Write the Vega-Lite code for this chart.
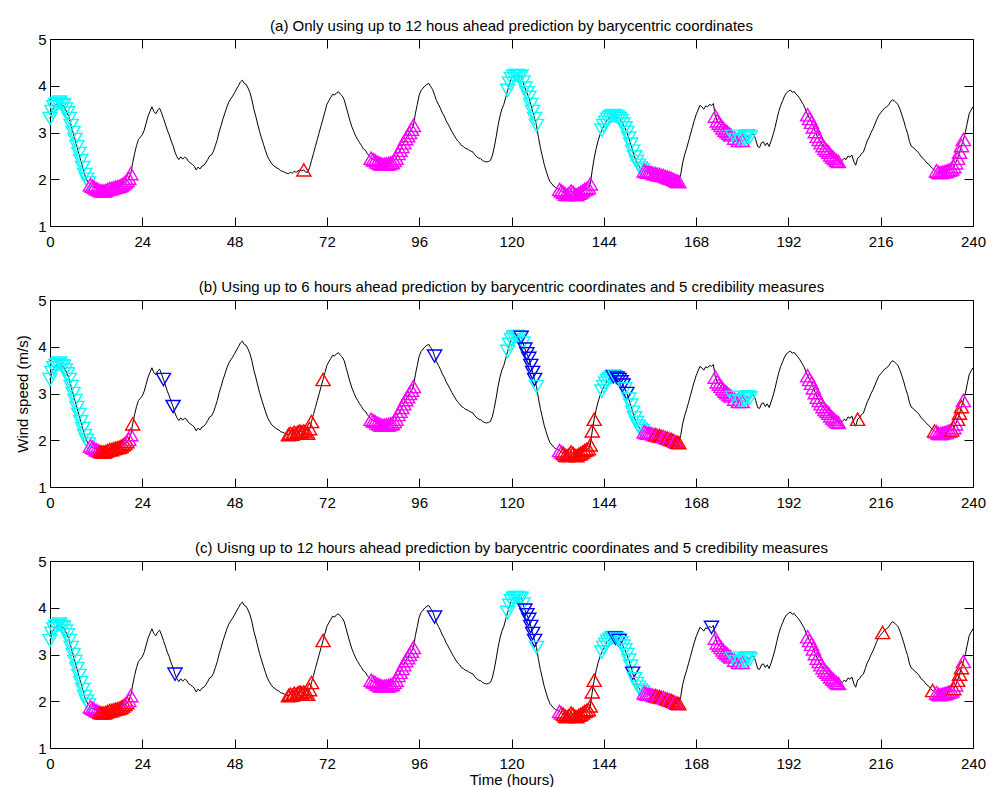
{
"$schema": "https://vega.github.io/schema/vega-lite/v6.json",
"background": "white",
"padding": {"left": 15, "top": 18, "right": 5, "bottom": 0},
"bounds": "flush",
"spacing": 74,
"config": {
 "view": {"stroke": "black", "strokeWidth": 1},
 "axis": {"domain": false, "grid": false, "ticks": true, "tickSize": -9, "tickColor": "black", "tickWidth": 1, "labelFont": "Liberation Sans", "labelFontSize": 15, "labelColor": "black", "titleFont": "Liberation Sans", "titleFontSize": 15, "titleFontWeight": "normal", "titleColor": "black", "labelFlush": false, "labelOverlap": false},
 "title": {"font": "Liberation Sans", "fontSize": 15, "fontWeight": "normal", "color": "black", "offset": -2, "baseline": "alphabetic", "frame": "group"}
},
"datasets": {"d": [
{"t":0,"v":3.30,"a":"cy","b":"cy","c":"cy"},{"t":0.5,"v":3.45,"a":"cy","b":"cy","c":"cy"},{"t":1,"v":3.55,"a":"cy","b":"cy","c":"cy"},{"t":1.5,"v":3.60,"a":"cy","b":"cy","c":"cy"},{"t":2,"v":3.62,"a":"cy","b":"cy","c":"cy"},{"t":2.5,"v":3.65,"a":"cy","b":"cy","c":"cy"},{"t":3,"v":3.60,"a":"cy","b":"cy","c":"cy"},{"t":3.5,"v":3.58,"a":"cy","b":"cy","c":"cy"},{"t":4,"v":3.50,"a":"cy","b":"cy","c":"cy"},{"t":4.5,"v":3.42,"a":"cy","b":"cy","c":"cy"},
{"t":5,"v":3.30,"a":"cy","b":"cy","c":"cy"},{"t":5.5,"v":3.15,"a":"cy","b":"cy","c":"cy"},{"t":6,"v":3.00,"a":"cy","b":"cy","c":"cy"},{"t":6.5,"v":2.85,"a":"cy","b":"cy","c":"cy"},{"t":7,"v":2.70,"a":"cy","b":"cy","c":"cy"},{"t":7.5,"v":2.55,"a":"cy","b":"cy","c":"cy"},{"t":8,"v":2.40,"a":"cy","b":"cy","c":"cy"},{"t":8.5,"v":2.25,"a":"cy","b":"cy","c":"cy"},{"t":9,"v":2.10,"a":"cy","b":"cy","c":"cy"},{"t":9.5,"v":2.00,"a":"cy","b":"cy","c":"cy"},
{"t":10,"v":1.92,"a":"cy","b":"cy","c":"cy"},{"t":10.5,"v":1.88,"a":"mg","b":"mg","c":"mg"},{"t":11,"v":1.85,"a":"mg","b":"mg","c":"mg"},{"t":11.5,"v":1.83,"a":"mg","b":"mg","c":"mg"},{"t":12,"v":1.80,"a":"mg","b":"mg","c":"mg"},{"t":12.5,"v":1.78,"a":"mg","b":"mg","c":"mg"},{"t":13,"v":1.76,"a":"mg","b":"rd","c":"rd"},{"t":13.5,"v":1.75,"a":"mg","b":"rd","c":"rd"},{"t":14,"v":1.75,"a":"mg","b":"rd","c":"rd"},{"t":14.5,"v":1.76,"a":"mg","b":"rd","c":"rd"},
{"t":15,"v":1.78,"a":"mg","b":"rd","c":"rd"},{"t":15.5,"v":1.80,"a":"mg","b":"rd","c":"rd"},{"t":16,"v":1.80,"a":"mg","b":"rd","c":"rd"},{"t":16.5,"v":1.82,"a":"mg","b":"rd","c":"rd"},{"t":17,"v":1.83,"a":"mg","b":"rd","c":"rd"},{"t":17.5,"v":1.84,"a":"mg","b":"rd","c":"rd"},{"t":18,"v":1.85,"a":"mg","b":"rd","c":"rd"},{"t":18.5,"v":1.87,"a":"mg","b":"rd","c":"rd"},{"t":19,"v":1.90,"a":"mg","b":"rd","c":"rd"},{"t":19.5,"v":1.93,"a":"mg","b":"rd","c":"rd"},
{"t":20,"v":1.97,"a":"mg","b":"rd","c":"rd"},{"t":20.5,"v":2.02,"a":"mg","b":"mg","c":"mg"},{"t":21,"v":2.12,"a":"mg","b":"mg","c":"mg"},{"t":21.5,"v":2.35,"b":"rd"},{"t":22,"v":2.55},{"t":22.5,"v":2.72},{"t":23,"v":2.85},{"t":23.5,"v":2.90},{"t":24,"v":2.95},{"t":24.5,"v":3.05},
{"t":25,"v":3.20},{"t":25.5,"v":3.35},{"t":26,"v":3.45},{"t":26.5,"v":3.55},{"t":27,"v":3.45},{"t":27.5,"v":3.40},{"t":28,"v":3.48},{"t":28.5,"v":3.52},{"t":29,"v":3.42},{"t":29.5,"v":3.30,"b":"bl"},
{"t":30,"v":3.18},{"t":30.5,"v":3.05},{"t":31,"v":2.95},{"t":31.5,"v":2.82},{"t":32,"v":2.72,"b":"bl"},{"t":32.5,"v":2.58,"c":"bl"},{"t":33,"v":2.48},{"t":33.5,"v":2.42},{"t":34,"v":2.48},{"t":34.5,"v":2.43},
{"t":35,"v":2.47},{"t":35.5,"v":2.45},{"t":36,"v":2.38},{"t":36.5,"v":2.35},{"t":37,"v":2.32},{"t":37.5,"v":2.28},{"t":38,"v":2.20},{"t":38.5,"v":2.26},{"t":39,"v":2.22},{"t":39.5,"v":2.28},
{"t":40,"v":2.30},{"t":40.5,"v":2.35},{"t":41,"v":2.42},{"t":41.5,"v":2.50},{"t":42,"v":2.52},{"t":42.5,"v":2.60},{"t":43,"v":2.72},{"t":43.5,"v":2.85},{"t":44,"v":3.02},{"t":44.5,"v":3.15},
{"t":45,"v":3.30},{"t":45.5,"v":3.42},{"t":46,"v":3.55},{"t":46.5,"v":3.65},{"t":47,"v":3.72},{"t":47.5,"v":3.78},{"t":48,"v":3.85},{"t":48.5,"v":3.93},{"t":49,"v":4.00},{"t":49.5,"v":4.08},
{"t":50,"v":4.12},{"t":50.5,"v":4.05},{"t":51,"v":4.03},{"t":51.5,"v":3.95},{"t":52,"v":3.85},{"t":52.5,"v":3.70},{"t":53,"v":3.50},{"t":53.5,"v":3.35},{"t":54,"v":3.18},{"t":54.5,"v":3.02},
{"t":55,"v":2.88},{"t":55.5,"v":2.75},{"t":56,"v":2.62},{"t":56.5,"v":2.50},{"t":57,"v":2.42},{"t":57.5,"v":2.35},{"t":58,"v":2.30},{"t":58.5,"v":2.27},{"t":59,"v":2.24},{"t":59.5,"v":2.22},
{"t":60,"v":2.18},{"t":60.5,"v":2.17},{"t":61,"v":2.15},{"t":61.5,"v":2.13},{"t":62,"v":2.12,"b":"rd","c":"rd"},{"t":62.5,"v":2.15,"b":"rd","c":"rd"},{"t":63,"v":2.13,"b":"rd","c":"rd"},{"t":63.5,"v":2.17,"b":"rd","c":"rd"},{"t":64,"v":2.15,"b":"rd","c":"rd"},{"t":64.5,"v":2.18,"b":"rd","c":"rd"},
{"t":65,"v":2.20,"b":"rd","c":"rd"},{"t":65.5,"v":2.18,"b":"rd","c":"rd"},{"t":66,"v":2.20,"a":"rd","b":"rd","c":"rd"},{"t":66.5,"v":2.15,"b":"rd","c":"rd"},{"t":67,"v":2.15,"b":"rd","c":"rd"},{"t":67.5,"v":2.25,"b":"rd","c":"rd"},{"t":68,"v":2.40,"b":"rd","c":"rd"},{"t":68.5,"v":2.55},{"t":69,"v":2.70},{"t":69.5,"v":2.85},
{"t":70,"v":3.00},{"t":70.5,"v":3.15},{"t":71,"v":3.30,"b":"rd","c":"rd"},{"t":71.5,"v":3.45},{"t":72,"v":3.60},{"t":72.5,"v":3.68},{"t":73,"v":3.75},{"t":73.5,"v":3.82},{"t":74,"v":3.80},{"t":74.5,"v":3.85},
{"t":75,"v":3.87},{"t":75.5,"v":3.82},{"t":76,"v":3.78},{"t":76.5,"v":3.70},{"t":77,"v":3.55},{"t":77.5,"v":3.40},{"t":78,"v":3.25},{"t":78.5,"v":3.12},{"t":79,"v":3.02},{"t":79.5,"v":2.92},
{"t":80,"v":2.85},{"t":80.5,"v":2.78},{"t":81,"v":2.72},{"t":81.5,"v":2.65},{"t":82,"v":2.62},{"t":82.5,"v":2.55},{"t":83,"v":2.50},{"t":83.5,"v":2.45,"a":"mg","b":"mg","c":"mg"},{"t":84,"v":2.42,"a":"mg","b":"mg","c":"mg"},{"t":84.5,"v":2.40,"a":"mg","b":"mg","c":"mg"},
{"t":85,"v":2.37,"a":"mg","b":"mg","c":"mg"},{"t":85.5,"v":2.35,"a":"mg","b":"mg","c":"mg"},{"t":86,"v":2.33,"a":"mg","b":"mg","c":"mg"},{"t":86.5,"v":2.32,"a":"mg","b":"mg","c":"mg"},{"t":87,"v":2.32,"a":"mg","b":"mg","c":"mg"},{"t":87.5,"v":2.33,"a":"mg","b":"mg","c":"mg"},{"t":88,"v":2.33,"a":"mg","b":"mg","c":"mg"},{"t":88.5,"v":2.35,"a":"mg","b":"mg","c":"mg"},{"t":89,"v":2.36,"a":"mg","b":"mg","c":"mg"},{"t":89.5,"v":2.40,"a":"mg","b":"mg","c":"mg"},
{"t":90,"v":2.45,"a":"mg","b":"mg","c":"mg"},{"t":90.5,"v":2.55,"a":"mg","b":"mg","c":"mg"},{"t":91,"v":2.62,"a":"mg","b":"mg","c":"mg"},{"t":91.5,"v":2.70,"a":"mg","b":"mg","c":"mg"},{"t":92,"v":2.78,"a":"mg","b":"mg","c":"mg"},{"t":92.5,"v":2.87,"a":"mg","b":"mg","c":"mg"},{"t":93,"v":2.93,"a":"mg","b":"mg","c":"mg"},{"t":93.5,"v":3.00,"a":"mg","b":"mg","c":"mg"},{"t":94,"v":3.07,"a":"mg","b":"mg","c":"mg"},{"t":94.5,"v":3.15,"a":"mg","b":"mg","c":"mg"},
{"t":95,"v":3.40},{"t":95.5,"v":3.60},{"t":96,"v":3.80},{"t":96.5,"v":3.90},{"t":97,"v":3.95},{"t":97.5,"v":4.00},{"t":98,"v":4.03},{"t":98.5,"v":4.05},{"t":99,"v":3.98},{"t":99.5,"v":3.92},
{"t":100,"v":3.80,"b":"bl","c":"bl"},{"t":100.5,"v":3.68},{"t":101,"v":3.60},{"t":101.5,"v":3.52},{"t":102,"v":3.42},{"t":102.5,"v":3.35},{"t":103,"v":3.25},{"t":103.5,"v":3.18},{"t":104,"v":3.10},{"t":104.5,"v":3.02},
{"t":105,"v":2.95},{"t":105.5,"v":2.88},{"t":106,"v":2.82},{"t":106.5,"v":2.78},{"t":107,"v":2.72},{"t":107.5,"v":2.70},{"t":108,"v":2.66},{"t":108.5,"v":2.65},{"t":109,"v":2.62},{"t":109.5,"v":2.60},
{"t":110,"v":2.58},{"t":110.5,"v":2.52},{"t":111,"v":2.48},{"t":111.5,"v":2.45},{"t":112,"v":2.44},{"t":112.5,"v":2.40},{"t":113,"v":2.38},{"t":113.5,"v":2.37},{"t":114,"v":2.38},{"t":114.5,"v":2.40},
{"t":115,"v":2.50},{"t":115.5,"v":2.68},{"t":116,"v":2.90},{"t":116.5,"v":3.15},{"t":117,"v":3.35},{"t":117.5,"v":3.50},{"t":118,"v":3.60},{"t":118.5,"v":3.75},{"t":119,"v":3.90,"a":"cy","b":"cy","c":"cy"},{"t":119.5,"v":4.05,"a":"cy","b":"cy","c":"cy"},
{"t":120,"v":4.15,"a":"cy","b":"cy","c":"cy"},{"t":120.5,"v":4.20,"a":"cy","b":"cy","c":"cy"},{"t":121,"v":4.22,"a":"cy","b":"cy","c":"cy"},{"t":121.5,"v":4.22,"a":"cy","b":"cy","c":"cy"},{"t":122,"v":4.20,"a":"cy","b":"cy","c":"cy"},{"t":122.5,"v":4.20,"a":"cy","b":"bl","c":"cy"},{"t":123,"v":4.08,"a":"cy","b":"cy","c":"cy"},{"t":123.5,"v":3.95,"a":"cy","b":"bl","c":"bl"},{"t":124,"v":3.85,"a":"cy","b":"bl","c":"bl"},{"t":124.5,"v":3.75,"a":"cy","b":"bl","c":"bl"},
{"t":125,"v":3.60,"a":"cy","b":"bl","c":"bl"},{"t":125.5,"v":3.45,"a":"cy","b":"bl","c":"bl"},{"t":126,"v":3.30,"a":"cy","b":"bl","c":"bl"},{"t":126.5,"v":3.15,"a":"cy","b":"cy","c":"cy"},{"t":127,"v":2.90},{"t":127.5,"v":2.68},{"t":128,"v":2.50},{"t":128.5,"v":2.32},{"t":129,"v":2.18},{"t":129.5,"v":2.05},
{"t":130,"v":1.95},{"t":130.5,"v":1.90},{"t":131,"v":1.85},{"t":131.5,"v":1.82},{"t":132,"v":1.80},{"t":132.5,"v":1.78,"a":"mg","b":"mg","c":"mg"},{"t":133,"v":1.75,"a":"mg","b":"mg","c":"mg"},{"t":133.5,"v":1.72,"a":"mg","b":"rd","c":"rd"},{"t":134,"v":1.68,"a":"mg","b":"rd","c":"rd"},{"t":134.5,"v":1.67,"a":"mg","b":"rd","c":"rd"},
{"t":135,"v":1.70,"a":"mg","b":"rd","c":"rd"},{"t":135.5,"v":1.75,"a":"mg","b":"rd","c":"rd"},{"t":136,"v":1.72,"a":"mg","b":"rd","c":"rd"},{"t":136.5,"v":1.68,"a":"mg","b":"rd","c":"rd"},{"t":137,"v":1.67,"a":"mg","b":"rd","c":"rd"},{"t":137.5,"v":1.70,"a":"mg","b":"rd","c":"rd"},{"t":138,"v":1.72,"a":"mg","b":"rd","c":"rd"},{"t":138.5,"v":1.75,"a":"mg","b":"rd","c":"rd"},{"t":139,"v":1.78,"a":"mg","b":"rd","c":"rd"},{"t":139.5,"v":1.80,"a":"mg","b":"rd","c":"rd"},
{"t":140,"v":1.82,"a":"mg","b":"rd","c":"rd"},{"t":140.5,"v":1.90,"a":"mg","b":"rd","c":"rd"},{"t":141,"v":2.20,"b":"rd","c":"rd"},{"t":141.5,"v":2.45,"b":"rd","c":"rd"},{"t":142,"v":2.65},{"t":142.5,"v":2.82},{"t":143,"v":2.95},{"t":143.5,"v":3.05,"a":"cy","b":"cy","c":"cy"},{"t":144,"v":3.15,"a":"cy","b":"cy","c":"cy"},{"t":144.5,"v":3.22,"a":"cy","b":"cy","c":"cy"},
{"t":145,"v":3.28,"a":"cy","b":"cy","c":"cy"},{"t":145.5,"v":3.32,"a":"cy","b":"cy","c":"cy"},{"t":146,"v":3.35,"a":"cy","b":"cy","c":"cy"},{"t":146.5,"v":3.36,"a":"cy","b":"bl","c":"cy"},{"t":147,"v":3.35,"a":"cy","b":"cy","c":"bl"},{"t":147.5,"v":3.33,"a":"cy","b":"bl","c":"cy"},{"t":148,"v":3.30,"a":"cy","b":"bl","c":"bl"},{"t":148.5,"v":3.25,"a":"cy","b":"bl","c":"cy"},{"t":149,"v":3.18,"a":"cy","b":"bl","c":"cy"},{"t":149.5,"v":3.10,"a":"cy","b":"cy","c":"cy"},
{"t":150,"v":3.00,"a":"cy","b":"bl","c":"cy"},{"t":150.5,"v":2.88,"a":"cy","b":"cy","c":"cy"},{"t":151,"v":2.75,"a":"cy","b":"cy","c":"cy"},{"t":151.5,"v":2.60,"a":"cy","b":"cy","c":"bl"},{"t":152,"v":2.48,"a":"cy","b":"cy","c":"cy"},{"t":152.5,"v":2.38,"a":"cy","b":"cy","c":"cy"},{"t":153,"v":2.30,"a":"cy","b":"cy","c":"cy"},{"t":153.5,"v":2.24,"a":"cy","b":"cy","c":"cy"},{"t":154,"v":2.20,"a":"cy","b":"cy","c":"cy"},{"t":154.5,"v":2.18,"a":"mg","b":"mg","c":"mg"},
{"t":155,"v":2.16,"a":"mg","b":"mg","c":"mg"},{"t":155.5,"v":2.15,"a":"mg","b":"mg","c":"mg"},{"t":156,"v":2.15,"a":"mg","b":"mg","c":"mg"},{"t":156.5,"v":2.14,"a":"mg","b":"mg","c":"mg"},{"t":157,"v":2.12,"a":"mg","b":"mg","c":"mg"},{"t":157.5,"v":2.12,"a":"mg","b":"rd","c":"rd"},{"t":158,"v":2.10,"a":"mg","b":"mg","c":"mg"},{"t":158.5,"v":2.10,"a":"mg","b":"rd","c":"rd"},{"t":159,"v":2.08,"a":"mg","b":"rd","c":"rd"},{"t":159.5,"v":2.08,"a":"mg","b":"mg","c":"mg"},
{"t":160,"v":2.06,"a":"mg","b":"mg","c":"mg"},{"t":160.5,"v":2.05,"a":"mg","b":"rd","c":"rd"},{"t":161,"v":2.03,"a":"mg","b":"mg","c":"mg"},{"t":161.5,"v":2.02,"a":"mg","b":"rd","c":"rd"},{"t":162,"v":2.00,"a":"mg","b":"rd","c":"rd"},{"t":162.5,"v":1.98,"a":"mg","b":"mg","c":"mg"},{"t":163,"v":1.96,"a":"mg","b":"rd","c":"rd"},{"t":163.5,"v":1.95,"a":"mg","b":"rd","c":"rd"},{"t":164,"v":2.10},{"t":164.5,"v":2.35},
{"t":165,"v":2.52},{"t":165.5,"v":2.65},{"t":166,"v":2.80},{"t":166.5,"v":2.95},{"t":167,"v":3.10},{"t":167.5,"v":3.25},{"t":168,"v":3.38},{"t":168.5,"v":3.48},{"t":169,"v":3.58},{"t":169.5,"v":3.55},
{"t":170,"v":3.50},{"t":170.5,"v":3.57},{"t":171,"v":3.55},{"t":171.5,"v":3.60},{"t":172,"v":3.58,"c":"bl"},{"t":172.5,"v":3.62},{"t":173,"v":3.35,"a":"mg","b":"mg","c":"mg"},{"t":173.5,"v":3.25,"a":"mg","b":"mg","c":"mg"},{"t":174,"v":3.20,"a":"mg","b":"mg","c":"mg"},{"t":174.5,"v":3.15,"a":"mg","b":"mg","c":"mg"},
{"t":175,"v":3.10,"a":"mg","b":"mg","c":"mg"},{"t":175.5,"v":3.05,"a":"mg","b":"mg","c":"mg"},{"t":176,"v":3.02,"a":"mg","b":"mg","c":"mg"},{"t":176.5,"v":2.98,"a":"mg","b":"mg","c":"mg"},{"t":177,"v":2.95,"a":"mg","b":"mg","c":"mg"},{"t":177.5,"v":2.92,"a":"cy","b":"cy","c":"cy"},{"t":178,"v":2.88,"a":"mg","b":"mg","c":"mg"},{"t":178.5,"v":2.85,"a":"cy","b":"cy","c":"cy"},{"t":179,"v":2.83,"a":"mg","b":"mg","c":"mg"},{"t":179.5,"v":2.82,"a":"cy","b":"cy","c":"cy"},
{"t":180,"v":2.83,"a":"mg","b":"mg","c":"mg"},{"t":180.5,"v":2.86,"a":"cy","b":"cy","c":"cy"},{"t":181,"v":2.90,"a":"cy","b":"cy","c":"cy"},{"t":181.5,"v":2.93,"a":"cy","b":"cy","c":"cy"},{"t":182,"v":2.90,"a":"cy","b":"cy","c":"cy"},{"t":182.5,"v":2.95},{"t":183,"v":2.97},{"t":183.5,"v":2.85},{"t":184,"v":2.70},{"t":184.5,"v":2.68},
{"t":185,"v":2.78},{"t":185.5,"v":2.80},{"t":186,"v":2.72},{"t":186.5,"v":2.78},{"t":187,"v":2.70},{"t":187.5,"v":2.82},{"t":188,"v":2.95},{"t":188.5,"v":3.10},{"t":189,"v":3.28},{"t":189.5,"v":3.45},
{"t":190,"v":3.58},{"t":190.5,"v":3.68},{"t":191,"v":3.78},{"t":191.5,"v":3.85},{"t":192,"v":3.88},{"t":192.5,"v":3.91},{"t":193,"v":3.86},{"t":193.5,"v":3.88},{"t":194,"v":3.82},{"t":194.5,"v":3.78},
{"t":195,"v":3.72},{"t":195.5,"v":3.65},{"t":196,"v":3.58},{"t":196.5,"v":3.48},{"t":197,"v":3.38,"a":"mg","b":"mg","c":"mg"},{"t":197.5,"v":3.30,"a":"mg","b":"mg","c":"mg"},{"t":198,"v":3.22,"a":"mg","b":"mg","c":"mg"},{"t":198.5,"v":3.12,"a":"mg","b":"mg","c":"mg"},{"t":199,"v":3.02,"a":"mg","b":"mg","c":"mg"},{"t":199.5,"v":2.92,"a":"mg","b":"mg","c":"mg"},
{"t":200,"v":2.85,"a":"mg","b":"mg","c":"mg"},{"t":200.5,"v":2.78,"a":"mg","b":"mg","c":"mg"},{"t":201,"v":2.72,"a":"mg","b":"mg","c":"mg"},{"t":201.5,"v":2.66,"a":"mg","b":"mg","c":"mg"},{"t":202,"v":2.62,"a":"mg","b":"mg","c":"mg"},{"t":202.5,"v":2.58,"a":"mg","b":"mg","c":"mg"},{"t":203,"v":2.52,"a":"mg","b":"mg","c":"mg"},{"t":203.5,"v":2.48,"a":"mg","b":"mg","c":"mg"},{"t":204,"v":2.44,"a":"mg","b":"mg","c":"mg"},{"t":204.5,"v":2.40,"a":"mg","b":"mg","c":"mg"},
{"t":205,"v":2.38,"a":"mg","b":"mg","c":"mg"},{"t":205.5,"v":2.42},{"t":206,"v":2.40},{"t":206.5,"v":2.45},{"t":207,"v":2.42},{"t":207.5,"v":2.50},{"t":208,"v":2.47},{"t":208.5,"v":2.52},{"t":209,"v":2.38},{"t":209.5,"v":2.30},
{"t":210,"v":2.45,"b":"rd"},{"t":210.5,"v":2.48},{"t":211,"v":2.55},{"t":211.5,"v":2.58},{"t":212,"v":2.70},{"t":212.5,"v":2.82},{"t":213,"v":2.90},{"t":213.5,"v":3.00},{"t":214,"v":3.08},{"t":214.5,"v":3.18},
{"t":215,"v":3.28},{"t":215.5,"v":3.37},{"t":216,"v":3.42},{"t":216.5,"v":3.47,"c":"rd"},{"t":217,"v":3.52},{"t":217.5,"v":3.55},{"t":218,"v":3.58},{"t":218.5,"v":3.65},{"t":219,"v":3.70},{"t":219.5,"v":3.68},
{"t":220,"v":3.64},{"t":220.5,"v":3.60},{"t":221,"v":3.50},{"t":221.5,"v":3.38},{"t":222,"v":3.25},{"t":222.5,"v":3.10},{"t":223,"v":2.98},{"t":223.5,"v":2.80},{"t":224,"v":2.70},{"t":224.5,"v":2.68},
{"t":225,"v":2.63},{"t":225.5,"v":2.60},{"t":226,"v":2.55},{"t":226.5,"v":2.48},{"t":227,"v":2.45},{"t":227.5,"v":2.40},{"t":228,"v":2.35},{"t":228.5,"v":2.32},{"t":229,"v":2.27},{"t":229.5,"v":2.23,"c":"rd"},
{"t":230,"v":2.20,"b":"rd"},{"t":230.5,"v":2.18,"a":"mg","b":"mg","c":"mg"},{"t":231,"v":2.15,"a":"mg","b":"mg","c":"mg"},{"t":231.5,"v":2.14,"a":"mg","b":"mg","c":"mg"},{"t":232,"v":2.15,"a":"mg","b":"mg","c":"mg"},{"t":232.5,"v":2.16,"a":"mg","b":"mg","c":"mg"},{"t":233,"v":2.17,"a":"mg","b":"mg","c":"mg"},{"t":233.5,"v":2.19,"a":"mg","b":"mg","c":"mg"},{"t":234,"v":2.20,"a":"mg","b":"mg","c":"mg"},{"t":234.5,"v":2.22,"a":"mg","b":"rd","c":"mg"},
{"t":235,"v":2.27,"a":"mg","b":"mg","c":"rd"},{"t":235.5,"v":2.35,"a":"mg","b":"mg","c":"mg"},{"t":236,"v":2.45,"a":"mg","b":"rd","c":"rd"},{"t":236.5,"v":2.58,"a":"mg","b":"rd","c":"rd"},{"t":237,"v":2.72,"a":"mg","b":"rd","c":"rd"},{"t":237.5,"v":2.85,"a":"mg","b":"mg","c":"mg"},{"t":238,"v":3.00},{"t":238.5,"v":3.20},{"t":239,"v":3.40},{"t":239.5,"v":3.48},
{"t":240,"v":3.55}
]},
"vconcat": [
{
 "title": {"text": "(a) Only using up to 12 hous ahead prediction by barycentric coordinates"},
 "width": 923, "height": 187,
 "data": {"name": "d"},
 "layer": [
  {"mark": {"type": "line", "color": "black", "strokeWidth": 1},
   "encoding": {
    "x": {"field": "t", "type": "quantitative", "scale": {"domain": [0, 240], "nice": false}, "axis": {"orient": "bottom", "values": [0,24,48,72,96,120,144,168,192,216,240], "labelPadding": 17, "title": null}},
    "y": {"field": "v", "type": "quantitative", "scale": {"domain": [1, 5], "nice": false, "zero": false}, "axis": {"orient": "left", "values": [1,2,3,4,5], "labelPadding": 13, "title": null}}
   }},
  {"transform": [{"filter": "isValid(datum.a)"}],
   "mark": {"type": "point", "filled": false, "size": 200, "strokeWidth": 1.4, "opacity": 1},
   "encoding": {
    "x": {"field": "t", "type": "quantitative", "axis": {"orient": "top", "values": [0,24,48,72,96,120,144,168,192,216,240], "labels": false, "title": null}},
    "y": {"field": "v", "type": "quantitative", "axis": {"orient": "right", "values": [1,2,3,4,5], "labels": false, "title": null}},
    "color": {"field": "a", "type": "nominal", "scale": {"domain": ["cy","mg","rd","bl"], "range": ["#00FFFF","#FF00FF","#FF0000","#0000FF"]}, "legend": null},
    "shape": {"field": "a", "type": "nominal", "scale": {"domain": ["cy","mg","rd","bl"], "range": ["triangle-down","triangle-up","triangle-up","triangle-down"]}, "legend": null}
   }}
 ],
 "resolve": {"axis": {"x": "independent", "y": "independent"}}
},
{
 "title": {"text": "(b) Using up to 6 hours ahead prediction by barycentric coordinates and 5 credibility measures"},
 "width": 923, "height": 187,
 "data": {"name": "d"},
 "layer": [
  {"mark": {"type": "line", "color": "black", "strokeWidth": 1},
   "encoding": {
    "x": {"field": "t", "type": "quantitative", "scale": {"domain": [0, 240], "nice": false}, "axis": {"orient": "bottom", "values": [0,24,48,72,96,120,144,168,192,216,240], "labelPadding": 17, "title": null}},
    "y": {"field": "v", "type": "quantitative", "scale": {"domain": [1, 5], "nice": false, "zero": false}, "axis": {"orient": "left", "values": [1,2,3,4,5], "labelPadding": 13, "title": "Wind speed (m/s)", "titlePadding": 7}}
   }},
  {"transform": [{"filter": "isValid(datum.b)"}],
   "mark": {"type": "point", "filled": false, "size": 200, "strokeWidth": 1.4, "opacity": 1},
   "encoding": {
    "x": {"field": "t", "type": "quantitative", "axis": {"orient": "top", "values": [0,24,48,72,96,120,144,168,192,216,240], "labels": false, "title": null}},
    "y": {"field": "v", "type": "quantitative", "axis": {"orient": "right", "values": [1,2,3,4,5], "labels": false, "title": null}},
    "color": {"field": "b", "type": "nominal", "scale": {"domain": ["cy","mg","rd","bl"], "range": ["#00FFFF","#FF00FF","#FF0000","#0000FF"]}, "legend": null},
    "shape": {"field": "b", "type": "nominal", "scale": {"domain": ["cy","mg","rd","bl"], "range": ["triangle-down","triangle-up","triangle-up","triangle-down"]}, "legend": null}
   }}
 ],
 "resolve": {"axis": {"x": "independent", "y": "independent"}}
},
{
 "title": {"text": "(c) Uisng up to 12 hours ahead prediction by barycentric coordinates and 5 credibility measures"},
 "width": 923, "height": 187,
 "data": {"name": "d"},
 "layer": [
  {"mark": {"type": "line", "color": "black", "strokeWidth": 1},
   "encoding": {
    "x": {"field": "t", "type": "quantitative", "scale": {"domain": [0, 240], "nice": false}, "axis": {"orient": "bottom", "values": [0,24,48,72,96,120,144,168,192,216,240], "labelPadding": 17, "title": "Time (hours)", "titlePadding": 1}},
    "y": {"field": "v", "type": "quantitative", "scale": {"domain": [1, 5], "nice": false, "zero": false}, "axis": {"orient": "left", "values": [1,2,3,4,5], "labelPadding": 13, "title": null}}
   }},
  {"transform": [{"filter": "isValid(datum.c)"}],
   "mark": {"type": "point", "filled": false, "size": 200, "strokeWidth": 1.4, "opacity": 1},
   "encoding": {
    "x": {"field": "t", "type": "quantitative", "axis": {"orient": "top", "values": [0,24,48,72,96,120,144,168,192,216,240], "labels": false, "title": null}},
    "y": {"field": "v", "type": "quantitative", "axis": {"orient": "right", "values": [1,2,3,4,5], "labels": false, "title": null}},
    "color": {"field": "c", "type": "nominal", "scale": {"domain": ["cy","mg","rd","bl"], "range": ["#00FFFF","#FF00FF","#FF0000","#0000FF"]}, "legend": null},
    "shape": {"field": "c", "type": "nominal", "scale": {"domain": ["cy","mg","rd","bl"], "range": ["triangle-down","triangle-up","triangle-up","triangle-down"]}, "legend": null}
   }}
 ],
 "resolve": {"axis": {"x": "independent", "y": "independent"}}
}
]
}
